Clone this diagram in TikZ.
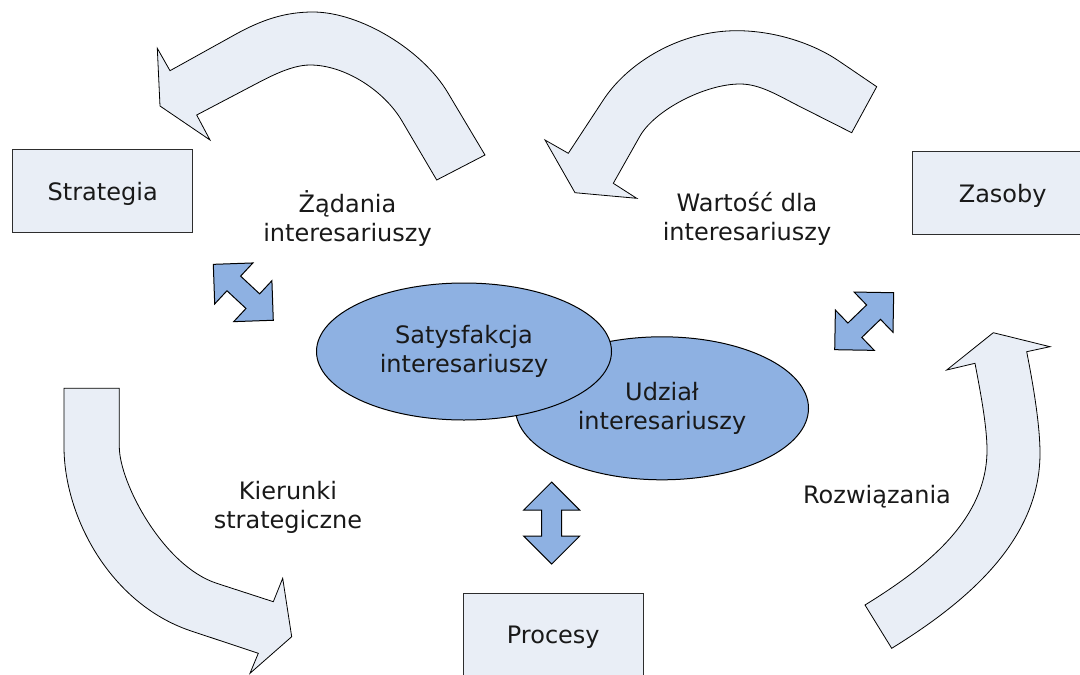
\documentclass[tikz,border=0pt]{standalone}
\usepackage{fontspec}
\setmainfont{DejaVu Sans}
\usetikzlibrary{shapes.geometric}
\definecolor{paleblue}{RGB}{233,238,246}
\definecolor{midblue}{RGB}{142,177,226}
\definecolor{edgegray}{RGB}{45,45,45}

\begin{document}
\begin{tikzpicture}[x=1pt,y=-1pt,
  txt/.style={font=\fontsize{24}{29}\selectfont, align=center, text=black!90, inner sep=0pt},
  box/.style={txt, draw=edgegray, line width=1pt, fill=paleblue, text depth=0pt,
              minimum width=180pt, minimum height=83pt},
  oval/.style={txt, ellipse, draw=black, line width=1pt, fill=midblue},
  bigarrow/.style={draw=black, line width=0.8pt, fill=paleblue, line join=miter},
  dblarrow/.pic={\draw[draw=black, line width=1pt, fill=midblue, line join=miter]
     (-41,0) -- (-13,-28) -- (-13,-10) -- (13,-10) -- (13,-28) -- (41,0)
     -- (13,28) -- (13,10) -- (-13,10) -- (-13,28) -- cycle;}
]
\useasboundingbox (0,0) rectangle (1080,675);
\clip (0,0) rectangle (1080,675);

% curved arrow: demands, towards Strategia
\draw[bigarrow] (485,155) -- (436.7,180) -- (402,121)
  .. controls (384.3,90.8) and (345,65) .. (310,65)
  .. controls (290,65) and (266,78.7) .. (250,87)
  -- (196.7,115) -- (210,140) -- (160,106) -- (157.3,48.3) -- (170,70.7)
  -- (235.6,34.3) .. controls (261.9,19.8) and (285,12) .. (313,12)
  .. controls (360,12) and (422.6,49.9) .. (448,93)
  -- cycle;

% curved arrow: value, from Zasoby
\draw[bigarrow] (876.7,86.7) -- (851.7,132.7) -- (800,106.6)
  .. controls (777.7,95.3) and (760,84) .. (740,84)
  .. controls (705,84) and (655,110) .. (640,136)
  -- (613.3,183.3) -- (636.7,198.3) -- (575,192.7) -- (545,140) -- (568.3,153.3)
  -- (603.3,100) .. controls (628,62.4) and (680,30.7) .. (736.7,30.7)
  .. controls (775,30.7) and (813,43.6) .. (838,60.4)
  -- cycle;

% curved arrow: strategic directions, towards Procesy
\draw[bigarrow] (64,388.3) -- (119.3,388.3) -- (119.3,446.7)
  .. controls (119.3,482.7) and (163.4,566) .. (216.7,583.3)
  -- (273.3,601.7) -- (282.7,578.3) -- (291.7,636.7) -- (250,673.3) -- (258.3,653.3)
  -- (190,630.6) .. controls (110.1,603.3) and (64,516.7) .. (64,446.7)
  -- cycle;

% curved arrow: solutions, towards Zasoby
\draw[bigarrow] (865,605) -- (891.7,648.3)
  .. controls (966.1,602.4) and (1040,540.7) .. (1040,453.3)
  .. controls (1040,420) and (1030.5,371.3) .. (1026.7,351.7)
  -- (1050,346.7) -- (993.3,332.7) -- (946.7,370) -- (975,363.3)
  .. controls (979.6,387.9) and (987,425) .. (987,450)
  .. controls (987,520.4) and (924.9,568) .. (865,605)
  -- cycle;

% rectangles
\node[box] (strat) at (102.7,191) {Strategia};
\node[box] (zas) at (1002.7,193.3) {Zasoby};
\node[box] (proc) at (553.3,635) {Procesy};

% overlapping ovals
\node[oval, minimum width=293pt, minimum height=143pt] (udz) at (662,408.3) {Udział\\interesariuszy};
\node[oval, minimum width=295pt, minimum height=137pt] (sat) at (464,351.5) {Satysfakcja\\interesariuszy};

% two-headed arrows
\pic[rotate=-43] at (243.3,292.3) {dblarrow};
\pic[rotate=44] at (864.2,321.2) {dblarrow};
\pic[rotate=90] at (551.7,523) {dblarrow};

% labels
\node[txt] (zad) at (347.5,219) {Żądania\\interesariuszy};
\node[txt] (war) at (747,219) {Wartość dla\\interesariuszy};
\node[txt] (kier) at (288,507) {Kierunki\\strategiczne};
\node[txt] (roz) at (877,497) {Rozwiązania};
\end{tikzpicture}
\end{document}
